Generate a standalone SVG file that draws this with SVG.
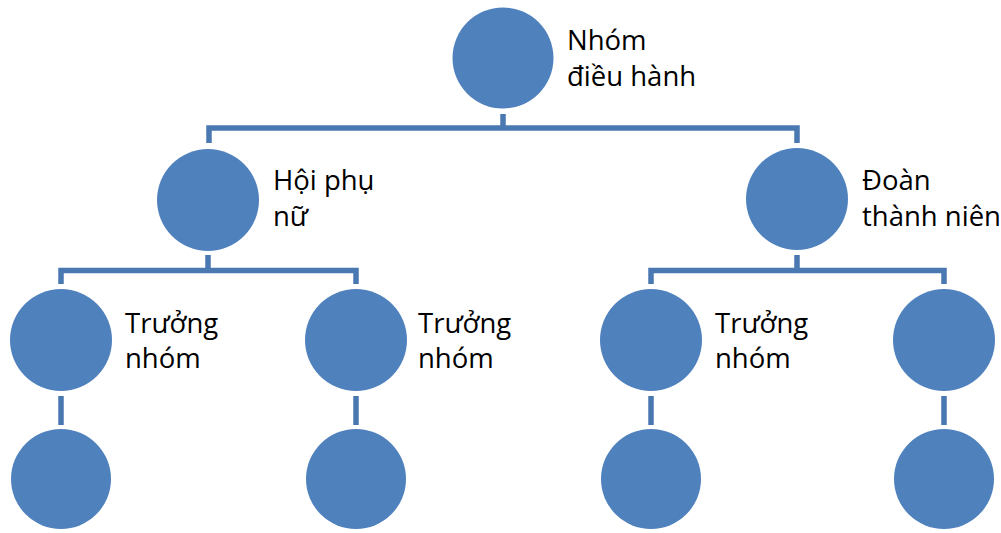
<svg xmlns="http://www.w3.org/2000/svg" width="1001" height="533" viewBox="0 0 1001 533">
<style>
.n{fill:#4f81bd;stroke:none}
.c{fill:none;stroke:#4a79b2;stroke-width:5.5;stroke-linejoin:miter;stroke-linecap:butt}
.t{font-family:"Open Sans","Noto Sans","Liberation Sans",sans-serif;font-size:27.5px;fill:#000}
</style>
<rect width="1001" height="533" fill="#fff"/>
<g id="connectors">
<path class="c" d="M503 114 V128 M209 143 V128 H797 V143"/>
<path class="c" d="M208 255 V270.5 M61 284 V270.5 H356 V284"/>
<path class="c" d="M797 255 V270.5 M651 284 V270.5 H944 V284"/>
<path class="c" d="M61 396 V425 M356 396 V425 M651 396 V425 M944 396 V425"/>
</g>
<g id="n-dieuhanh"><circle class="n" cx="503" cy="58" r="50.5"/><text class="t" x="567" y="50">Nhóm</text><text class="t" x="567" y="86">điều hành</text></g>
<g id="n-hoiphunu"><circle class="n" cx="208" cy="200" r="51"/><text class="t" x="273" y="190">Hội phụ</text><text class="t" x="273" y="226">nữ</text></g>
<g id="n-doanthanhnien"><circle class="n" cx="797" cy="199" r="51"/><text class="t" x="862" y="190">Đoàn</text><text class="t" x="862" y="226">thành niên</text></g>
<g id="n-tn1"><circle class="n" cx="61" cy="340" r="51"/><text class="t" x="125" y="333">Trưởng</text><text class="t" x="125" y="368">nhóm</text></g>
<g id="n-tn2"><circle class="n" cx="356" cy="340" r="51"/><text class="t" x="418" y="333">Trưởng</text><text class="t" x="418" y="368">nhóm</text></g>
<g id="n-tn3"><circle class="n" cx="651" cy="340" r="51"/><text class="t" x="715" y="333">Trưởng</text><text class="t" x="715" y="368">nhóm</text></g>
<g id="n-tn4"><circle class="n" cx="944" cy="340" r="51"/></g>
<g id="n-b1"><circle class="n" cx="61" cy="479" r="50"/></g>
<g id="n-b2"><circle class="n" cx="356" cy="479" r="50"/></g>
<g id="n-b3"><circle class="n" cx="651" cy="479" r="50"/></g>
<g id="n-b4"><circle class="n" cx="944" cy="479" r="50"/></g>
</svg>
